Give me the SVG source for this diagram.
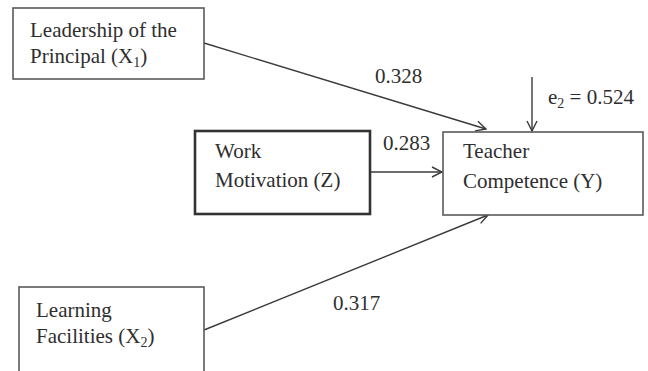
<svg xmlns="http://www.w3.org/2000/svg" width="648" height="371" viewBox="0 0 648 371">
<defs>
<style>
.box{fill:#fff;stroke:#5a5a5a;stroke-width:1.6}
.bold{fill:#fff;stroke:#333;stroke-width:2.6}
.t{font-family:"Liberation Serif","Times New Roman",serif;font-size:21px;fill:#2e2e2e}
.c{stroke:#3a3a3a;stroke-width:1.4;fill:none}
</style>
<marker id="ah" viewBox="0 0 12 12" refX="11" refY="6" markerWidth="12" markerHeight="12" markerUnits="userSpaceOnUse" orient="auto">
<polyline points="1,1 11,6 1,11" fill="none" stroke="#3a3a3a" stroke-width="1.4"/>
</marker>
</defs>
<rect width="648" height="371" fill="#fff"/>
<g id="connectors">
<line class="c" x1="204" y1="43" x2="486" y2="129" marker-end="url(#ah)"/>
<line class="c" x1="370" y1="172" x2="442" y2="172" marker-end="url(#ah)"/>
<line class="c" x1="204" y1="330" x2="488" y2="215" marker-end="url(#ah)"/>
<line class="c" x1="532" y1="77" x2="532" y2="131" marker-end="url(#ah)"/>
<text class="t" x="375" y="83">0.328</text>
<text class="t" x="383" y="150">0.283</text>
<text class="t" x="333" y="310">0.317</text>
<text class="t" x="548" y="104">e<tspan font-size="14" dy="4">2</tspan><tspan dy="-4"> = 0.524</tspan></text>
</g>
<g id="x1">
<rect class="box" x="13" y="8" width="191" height="71"/>
<text class="t" x="30" y="37">Leadership of the</text>
<text class="t" x="30" y="63">Principal (X<tspan font-size="14" dy="4">1</tspan><tspan dy="-4">)</tspan></text>
</g>
<g id="z">
<rect class="bold" x="195" y="131" width="175" height="83"/>
<text class="t" x="215" y="158">Work</text>
<text class="t" x="215" y="187">Motivation (Z)</text>
</g>
<g id="y">
<rect class="box" x="443" y="132" width="200" height="83"/>
<text class="t" x="463" y="158">Teacher</text>
<text class="t" x="463" y="188">Competence (Y)</text>
</g>
<g id="x2">
<rect class="box" x="19" y="287" width="185" height="90"/>
<text class="t" x="36" y="317">Learning</text>
<text class="t" x="36" y="343">Facilities (X<tspan font-size="14" dy="4">2</tspan><tspan dy="-4">)</tspan></text>
</g>
</svg>
